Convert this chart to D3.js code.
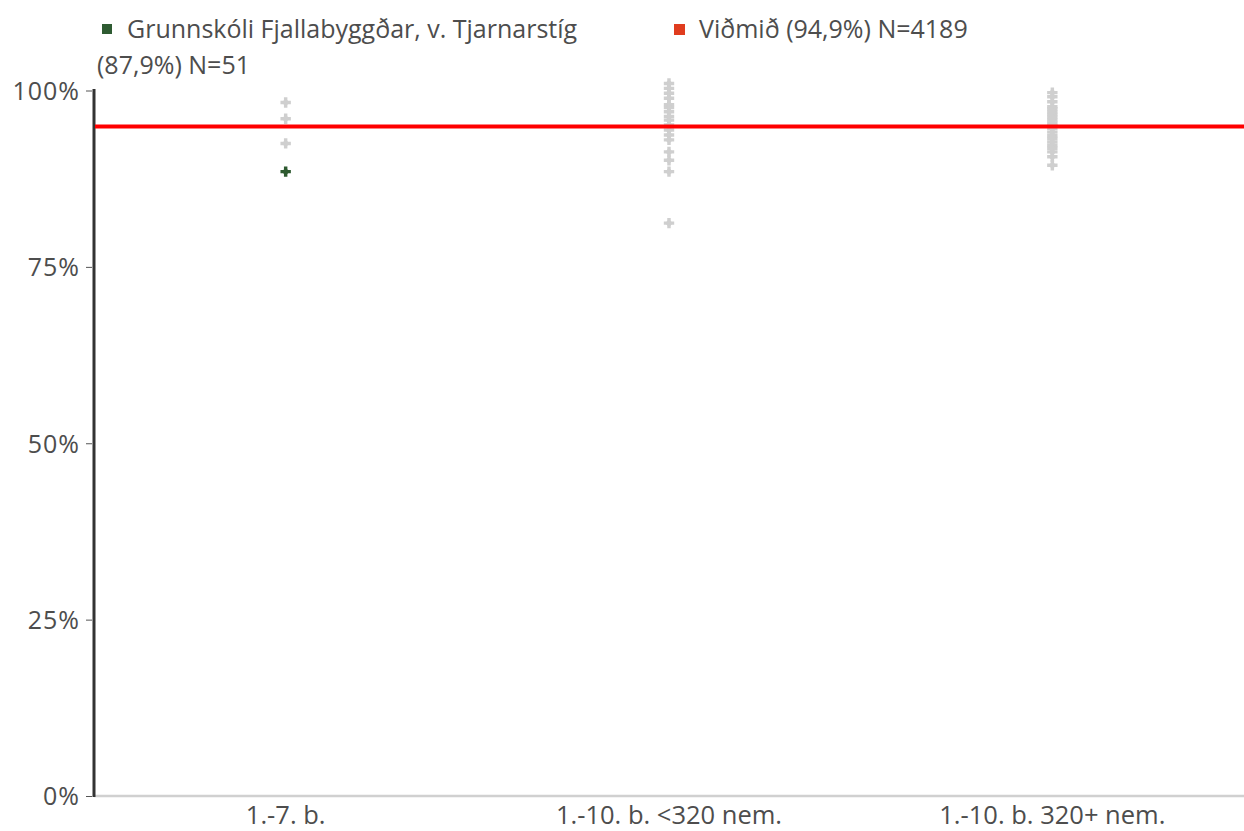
<!DOCTYPE html>
<html><head><meta charset="utf-8">
<script src="https://cdn.jsdelivr.net/npm/d3@7"></script>
<style>
html,body{margin:0;padding:0;background:#fff;}
svg{display:block;font-family:"Open Sans",sans-serif;}
</style></head>
<body><svg id="chart" width="1244" height="831"></svg>
<script>
const categories = ["1.-7. b.", "1.-10. b. <320 nem.", "1.-10. b. 320+ nem."];
const otherSchools1 = [98.3, 96.0, 92.5];
const otherSchools2 = [101.0, 100.3, 99.6, 98.9, 98.0, 97.6, 97.0, 96.3, 95.8, 95.1, 94.4, 93.7, 93.0, 91.3, 90.1, 88.5, 81.2];
const otherSchools3 = [99.7, 99.1, 98.4, 97.7, 97.4, 97.0, 96.6, 96.2, 95.8, 95.4, 95.0, 94.6, 94.1, 93.6, 93.2, 92.7, 92.2, 91.8, 91.3, 90.6, 89.4];
const schoolCategory = "1.-7. b.";
const schoolValue = 88.5;
const benchmark = 94.9;
const yTicks = [0, 25, 50, 75, 100];
const legendSchool = ["Grunnskóli Fjallabyggðar, v. Tjarnarstíg", "(87,9%) N=51"];
const legendBenchmark = "Viðmið (94,9%) N=4189";

const FONT = "'Open Sans',sans-serif";
const TXT = "#4d4d4d";
const svg = d3.select("#chart");
const m = {left: 94, right: 0};
const W = 1244;
const x = d3.scaleBand().domain(categories).range([m.left, W - m.right]);
const y = d3.scaleLinear().domain([0, 100]).range([796, 90.5]);

// x baseline
svg.append("line").attr("x1", m.left).attr("x2", W).attr("y1", y(0)).attr("y2", y(0))
  .attr("stroke", "#d0d0d0").attr("stroke-width", 2.5);

// x labels
svg.append("g").selectAll("text").data(categories).join("text")
  .attr("x", d => x(d) + x.bandwidth() / 2).attr("y", 824)
  .attr("text-anchor", "middle").attr("font-size", 25.5).attr("fill", TXT)
  .text(d => d);

// y axis
const yAxis = d3.axisLeft(y).tickValues(yTicks).tickFormat(d => d + "%").tickSize(6).tickPadding(6);
const ya = svg.append("g").attr("transform", `translate(${m.left - 2},0)`).call(yAxis);
ya.select(".domain").remove();
ya.selectAll(".tick line").attr("stroke", "#555");
ya.selectAll(".tick text").attr("font-size", 25).attr("letter-spacing", 1).attr("fill", TXT).attr("font-family", FONT)
  .attr("dy", "0.35em");
svg.append("line").attr("x1", m.left).attr("x2", m.left).attr("y1", 89).attr("y2", y(0) + 1)
  .attr("stroke", "#333").attr("stroke-width", 3);

// other school points (cross + diamond to mimic the rounded plus marker)
const pts = [];
[otherSchools1, otherSchools2, otherSchools3].forEach((arr, i) => arr.forEach(v => pts.push({c: categories[i], v})));
const cross = d3.symbol().type(d3.symbolCross).size(60);
const diamond = d3.symbol().type(d3.symbolSquare).size(30);
const gp = svg.append("g").selectAll("g").data(pts).join("g")
  .attr("transform", d => `translate(${x(d.c) + x.bandwidth() / 2},${y(d.v)})`)
  .attr("fill", "#cfcfcf");
gp.append("path").attr("d", cross);
gp.append("path").attr("d", diamond).attr("transform", "rotate(45)");

// benchmark line
svg.append("line").attr("x1", m.left + 1).attr("x2", W).attr("y1", y(benchmark)).attr("y2", y(benchmark))
  .attr("stroke", "#ff0000").attr("stroke-width", 4);

// school point
const sp = svg.append("g")
  .attr("transform", `translate(${x(schoolCategory) + x.bandwidth() / 2},${y(schoolValue)})`)
  .attr("fill", "#2e5a30");
sp.append("path").attr("d", cross);
sp.append("path").attr("d", diamond).attr("transform", "rotate(45)");

// legend
svg.append("rect").attr("x", 102).attr("y", 24).attr("width", 10).attr("height", 10).attr("fill", "#2e5b32");
svg.append("text").attr("x", 127).attr("y", 38).attr("font-size", 25).attr("fill", TXT).text(legendSchool[0]);
svg.append("text").attr("x", 97).attr("y", 74).attr("font-size", 25).attr("fill", TXT).text(legendSchool[1]);
svg.append("rect").attr("x", 674).attr("y", 24).attr("width", 11).attr("height", 11).attr("fill", "#e03c1e");
svg.append("text").attr("x", 699).attr("y", 38).attr("font-size", 25).attr("fill", TXT).text(legendBenchmark);
</script></body></html>
